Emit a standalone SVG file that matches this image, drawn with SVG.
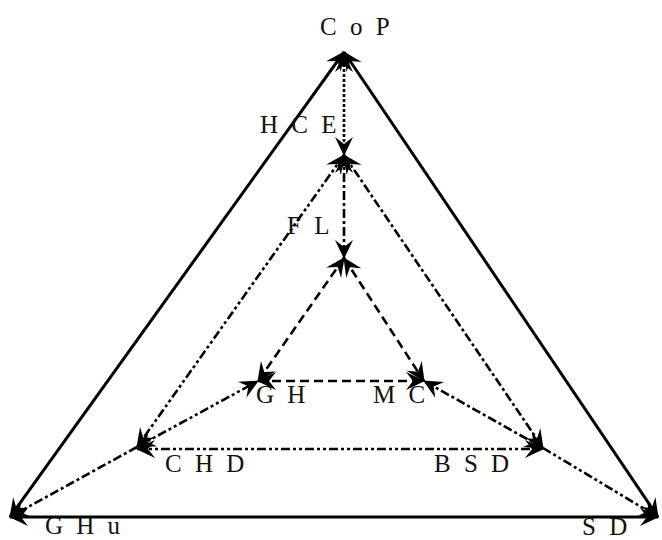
<svg xmlns="http://www.w3.org/2000/svg" width="662" height="540" viewBox="0 0 662 540">
<style>
text{font-family:"Liberation Serif","Times New Roman",serif;font-size:25px;fill:#111;letter-spacing:3.5px}
.c{fill:none;stroke:#000;stroke-width:2.6}
.solid{stroke-width:3}
.dot{stroke-dasharray:3 2}
.dd{stroke-dasharray:9 3 3 3}
.ddd{stroke-dasharray:9 3 3 3 3 3}
.dash{stroke-dasharray:9 5}
</style>
<defs>
<marker id="ah" viewBox="-20 -11 22 22" refX="0" refY="0" markerWidth="22" markerHeight="22" markerUnits="userSpaceOnUse" orient="auto-start-reverse">
<path d="M1,0 L-18,-9 L-11,0 L-18,9 Z" fill="#000"/>
</marker>
</defs>
<rect width="662" height="540" fill="#fff"/>
<g id="connectors">
<line class="c solid" x1="10" y1="517" x2="344" y2="52" marker-start="url(#ah)" marker-end="url(#ah)"/>
<line class="c solid" x1="658" y1="517" x2="344" y2="52" marker-start="url(#ah)" marker-end="url(#ah)"/>
<line class="c solid" x1="10" y1="517" x2="658" y2="517" marker-start="url(#ah)" marker-end="url(#ah)"/>
<line class="c dot" x1="344" y1="54" x2="344" y2="155" marker-start="url(#ah)" marker-end="url(#ah)"/>
<line class="c dd" x1="344" y1="155" x2="344" y2="258" marker-start="url(#ah)" marker-end="url(#ah)"/>
<line class="c ddd" x1="344" y1="155" x2="137" y2="447" marker-start="url(#ah)" marker-end="url(#ah)"/>
<line class="c dd" x1="344" y1="155" x2="543" y2="448" marker-start="url(#ah)" marker-end="url(#ah)"/>
<line class="c dash" x1="344" y1="258" x2="258" y2="381" marker-start="url(#ah)" marker-end="url(#ah)"/>
<line class="c dash" x1="344" y1="258" x2="424" y2="381" marker-start="url(#ah)" marker-end="url(#ah)"/>
<line class="c dash" x1="258" y1="381" x2="424" y2="381" marker-start="url(#ah)" marker-end="url(#ah)"/>
<line class="c ddd" x1="137" y1="447" x2="258" y2="381" marker-start="url(#ah)" marker-end="url(#ah)"/>
<line class="c dd" x1="543" y1="448" x2="424" y2="381" marker-start="url(#ah)" marker-end="url(#ah)"/>
<line class="c ddd" x1="137" y1="449" x2="543" y2="449" marker-start="url(#ah)" marker-end="url(#ah)"/>
<line class="c dd" x1="137" y1="447" x2="10" y2="517" marker-end="url(#ah)"/>
<line class="c ddd" x1="543" y1="448" x2="658" y2="517" marker-end="url(#ah)"/>
</g>
<g id="CoP"><text x="320" y="35">C o P</text></g>
<g id="HCE"><text x="260" y="133">H C E</text></g>
<g id="FL"><text x="287" y="234">F L</text></g>
<g id="GH"><text x="256" y="403">G H</text></g>
<g id="MC"><text x="373" y="403">M C</text></g>
<g id="CHD"><text x="165" y="472">C H D</text></g>
<g id="BSD"><text x="434" y="472">B S D</text></g>
<g id="GHu"><text x="45" y="534">G H u</text></g>
<g id="SD"><text x="582" y="535">S D</text></g>
</svg>
